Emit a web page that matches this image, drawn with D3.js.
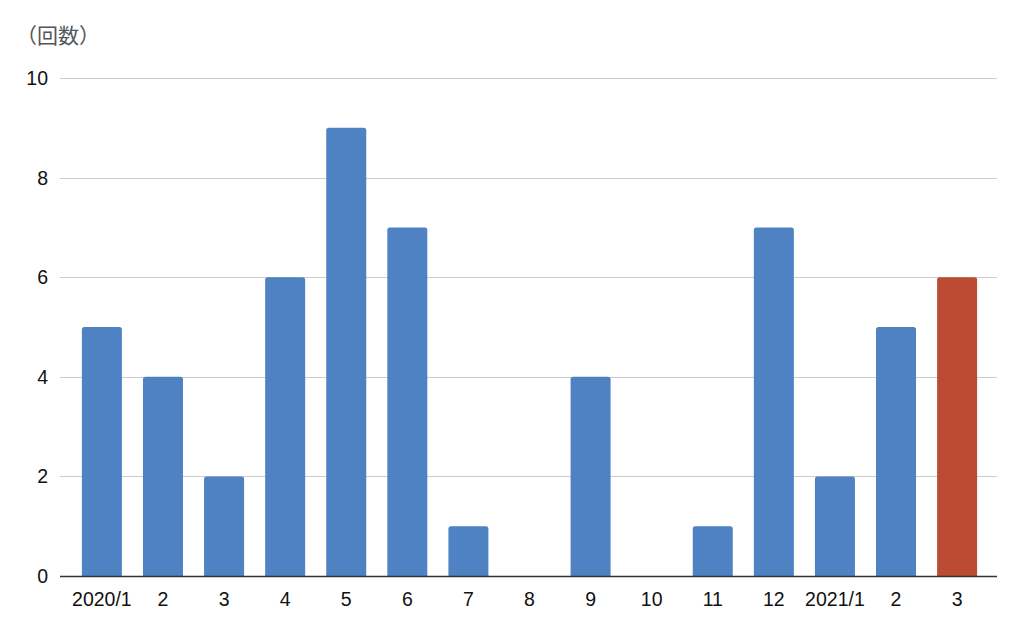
<!DOCTYPE html>
<html><head><meta charset="utf-8">
<script src="https://cdn.jsdelivr.net/npm/d3@7"></script>
<style>body{margin:0;background:#fff;} svg{display:block;}</style>
</head><body>
<svg id="c" width="1024" height="621"></svg>
<script>
const categories = ["2020/1","2","3","4","5","6","7","8","9","10","11","12","2021/1","2","3"];
const values = [5,4,2,6,9,7,1,0,4,0,1,7,2,5,6];
const highlight = [false,false,false,false,false,false,false,false,false,false,false,false,false,false,true];
const yTicks = [0,2,4,6,8,10];
const yUnitLabel = "（回数）";

const svg = d3.select("#c");
const font = "'Liberation Sans', Arial, sans-serif";
const x = d3.scaleBand().domain(d3.range(categories.length)).range([71.5, 987.5]).paddingInner(0.345).paddingOuter(0.17);
const y = d3.scaleLinear().domain([0,10]).range([576,78]);
const gridL = 60, gridR = 997;

svg.append("g").selectAll("line").data(yTicks.filter(d=>d>0)).join("line")
  .attr("x1",gridL).attr("x2",gridR).attr("y1",d=>Math.round(y(d))+0.5).attr("y2",d=>Math.round(y(d))+0.5)
  .attr("stroke","#cccccc").attr("stroke-width",1);

svg.append("g").selectAll("text").data(yTicks).join("text")
  .attr("x",48).attr("y",d=>y(d)+7).attr("text-anchor","end")
  .attr("font-family",font).attr("font-size",19.5).attr("fill","#111").text(d=>d);

const r = 2.5;
svg.append("g").selectAll("path").data(values).join("path")
  .attr("d",(d,i)=>{
    const x0 = x(i), w = x.bandwidth(), y0 = y(d), yb = y(0);
    if (d===0) return "";
    return `M${x0},${yb}V${y0+r}Q${x0},${y0} ${x0+r},${y0}H${x0+w-r}Q${x0+w},${y0} ${x0+w},${y0+r}V${yb}Z`;
  })
  .attr("fill",(d,i)=>highlight[i] ? "#bb4b32" : "#4e82c3");

svg.append("line").attr("x1",gridL).attr("x2",gridR).attr("y1",576.5).attr("y2",576.5)
  .attr("stroke","#333").attr("stroke-width",1.3);

svg.append("g").selectAll("text").data(categories).join("text")
  .attr("x",(d,i)=>x(i)+x.bandwidth()/2).attr("y",605.5).attr("text-anchor","middle")
  .attr("font-family",font).attr("font-size",19.5).attr("fill","#111").text(d=>d);

svg.append("text").attr("x",16).attr("y",43)
  .attr("font-family","'Noto Sans CJK JP', sans-serif").attr("font-size",21).attr("fill","#555").text(yUnitLabel);
</script>
</body></html>
